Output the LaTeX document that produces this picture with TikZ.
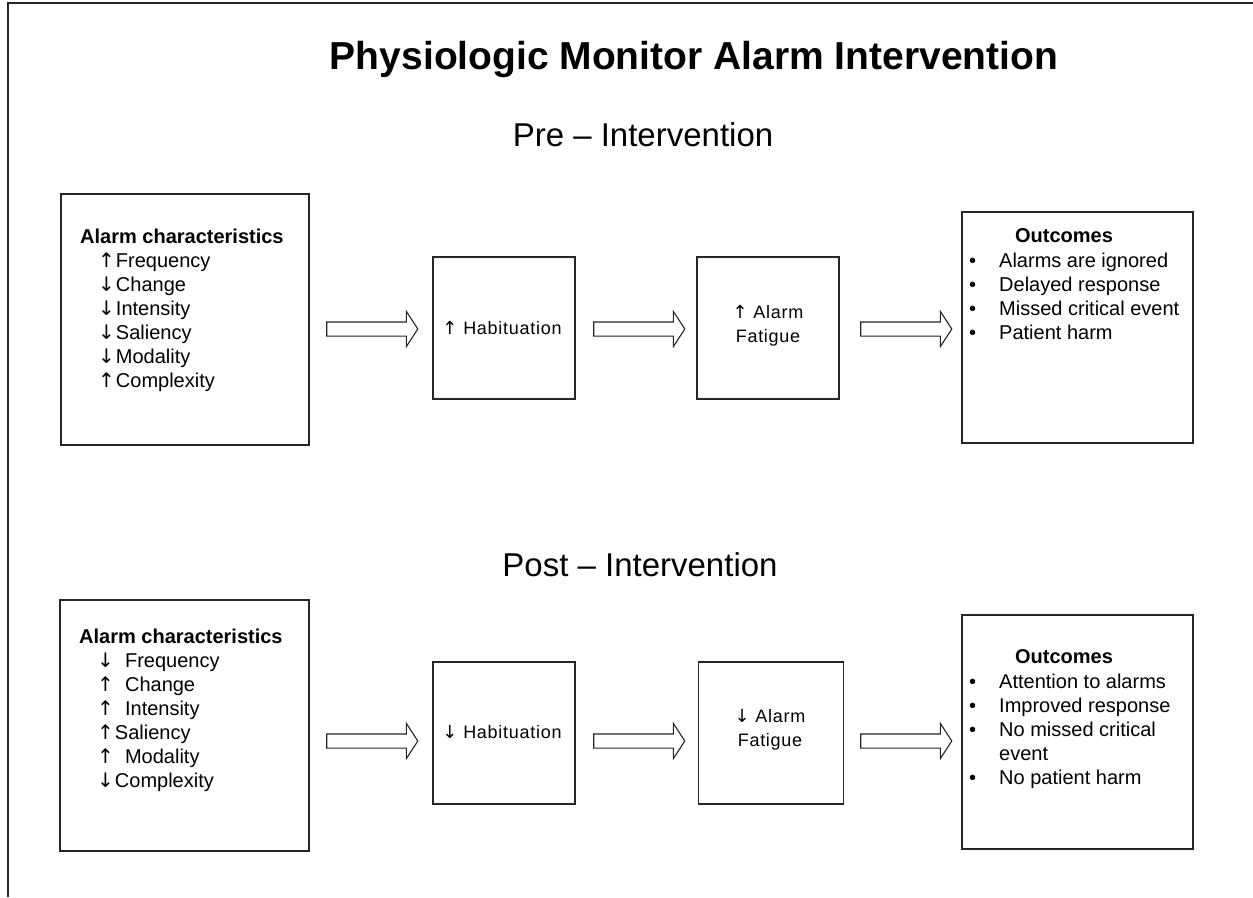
\documentclass[tikz,border=0pt]{standalone}
\usepackage{fontspec}
\setmainfont{Liberation Sans}
\newfontfamily\arrowfont{DejaVu Sans}
\newcommand{\UA}{{\arrowfont ↑}}
\newcommand{\DA}{{\arrowfont ↓}}
\usetikzlibrary{shapes.arrows}
\begin{document}
\begin{tikzpicture}[x=1pt,y=-1pt,
  box/.style={draw=black!85,line width=1.3pt,fill=white,inner sep=0pt},
  blockarrow/.style={single arrow,draw=black!85,line width=1.1pt,fill=white,
    minimum width=34pt,minimum height=91pt,single arrow head extend=10.5pt,
    single arrow tip angle=114,inner xsep=0pt,inner ysep=6.5pt},
  txt/.style={inner sep=0pt,font=\fontsize{20}{24}\selectfont},
  mid/.style={inner sep=0pt,align=center,font=\fontsize{18}{24}\selectfont\addfontfeature{LetterSpace=4}},
  heading/.style={inner sep=0pt,font=\fontsize{33}{36}\selectfont}]
\useasboundingbox (0,0) rectangle (1253,897);
\coordinate (fa) at (8,3);
\coordinate (fb) at (1253,3);
\coordinate (fc) at (8,897);
\draw[line width=2pt,black!85] (fc) -- (fa) -- (fb);

\node[inner sep=0pt,font=\fontsize{39}{42}\selectfont\bfseries] (title) at (694,60) {Physiologic Monitor Alarm Intervention};
\node[heading] (pre) at (643,135) {Pre – Intervention};
\node[heading] (post) at (640,565) {Post – Intervention};

% ---------- Pre row ----------
\node[box,minimum width=248pt,minimum height=251pt] (a1) at (185,319.5) {};
\node[txt,anchor=base west] (a1t) at (80,243) {\begin{tabular}[t]{@{}l@{}}
\textbf{Alarm characteristics}\\
\hspace{18pt}\UA\kern1pt Frequency\\
\hspace{18pt}\DA\kern1pt Change\\
\hspace{18pt}\DA\kern1pt Intensity\\
\hspace{18pt}\DA\kern1pt Saliency\\
\hspace{18pt}\DA\kern1pt Modality\\
\hspace{18pt}\UA\kern1pt Complexity
\end{tabular}};
\node[box,minimum width=142pt,minimum height=142pt] (b1) at (504,328) {};
\node[mid] (b1t) at (502,328) {\UA\ Habituation};
\node[box,minimum width=142pt,minimum height=142pt] (c1) at (768,328) {};
\node[mid] (c1t) at (768,326) {\UA\ Alarm\\Fatigue};
\node[box,minimum width=231pt,minimum height=231pt] (d1) at (1077.5,327.5) {};
\node[txt,font=\fontsize{20}{24}\selectfont\bfseries] (d1h) at (1064,236) {Outcomes};
\node[txt,anchor=base west] (d1t) at (969,267) {\begin{tabular}[t]{@{}l@{}}
\makebox[30pt][l]{•}Alarms are ignored\\
\makebox[30pt][l]{•}Delayed response\\
\makebox[30pt][l]{•}Missed critical event\\
\makebox[30pt][l]{•}Patient harm
\end{tabular}};
\node[blockarrow] (p1) at (370,329) {};
\node[blockarrow] (p2) at (637,329) {};
\node[blockarrow] (p3) at (904,329) {};

% ---------- Post row ----------
\node[box,minimum width=249pt,minimum height=251pt] (a2) at (184.5,725.5) {};
\node[txt,anchor=base west] (a2t) at (79,643) {\begin{tabular}[t]{@{}l@{}}
\textbf{Alarm characteristics}\\
\hspace{18pt}\DA\ \ Frequency\\
\hspace{18pt}\UA\ \ Change\\
\hspace{18pt}\UA\ \ Intensity\\
\hspace{18pt}\UA\kern1pt Saliency\\
\hspace{18pt}\UA\ \ Modality\\
\hspace{18pt}\DA\kern1pt Complexity
\end{tabular}};
\node[box,minimum width=142pt,minimum height=142pt] (b2) at (504,733) {};
\node[mid] (b2t) at (502,732) {\DA\ Habituation};
\node[box,minimum width=145pt,minimum height=142pt] (c2) at (771,733) {};
\node[mid] (c2t) at (770,730) {\DA\ Alarm\\Fatigue};
\node[box,minimum width=231pt,minimum height=234pt] (d2) at (1077.5,732) {};
\node[txt,font=\fontsize{20}{24}\selectfont\bfseries] (d2h) at (1064,657) {Outcomes};
\node[txt,anchor=base west] (d2t) at (969,688) {\begin{tabular}[t]{@{}l@{}}
\makebox[30pt][l]{•}Attention to alarms\\
\makebox[30pt][l]{•}Improved response\\
\makebox[30pt][l]{•}No missed critical\\
\makebox[30pt][l]{}event\\
\makebox[30pt][l]{•}No patient harm
\end{tabular}};
\node[blockarrow] (q1) at (370,741) {};
\node[blockarrow] (q2) at (637,741) {};
\node[blockarrow] (q3) at (904,741) {};
\end{tikzpicture}
\end{document}
